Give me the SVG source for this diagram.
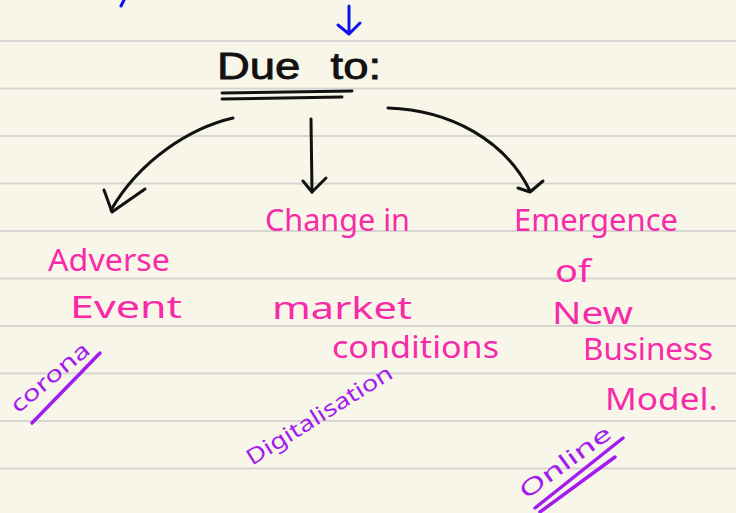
<svg xmlns="http://www.w3.org/2000/svg" width="736" height="513" viewBox="0 0 736 513">
  <defs>
    <style>
      .paper { fill: #f8f6e8; }
      .rule { stroke: #d6d6d2; stroke-width: 2; }
      .ink { fill: none; stroke: #111111; stroke-width: 3; stroke-linecap: round; stroke-linejoin: round; }
      .blue { fill: none; stroke: #1010f0; stroke-width: 3; stroke-linecap: round; stroke-linejoin: round; }
      .violet { fill: none; stroke: #a21cf0; stroke-width: 3.5; stroke-linecap: round; }
      .head { font-family: "Liberation Sans", Arial, sans-serif; font-size: 36px; fill: #111111; stroke: #111111; stroke-width: 0.8; }
      .pink { font-family: "Noto Sans", "Liberation Sans", sans-serif; font-size: 31px; fill: #f72aa9; }
      .note { font-family: "Noto Sans", "Liberation Sans", sans-serif; font-size: 22px; fill: #a21cf0; }
    </style>
  </defs>

  <!-- notebook paper -->
  <rect class="paper" x="0" y="0" width="736" height="513"/>
  <g id="rules">
    <line class="rule" x1="0" y1="41" x2="736" y2="41"/>
    <line class="rule" x1="0" y1="88.5" x2="736" y2="88.5"/>
    <line class="rule" x1="0" y1="136" x2="736" y2="136"/>
    <line class="rule" x1="0" y1="183.5" x2="736" y2="183.5"/>
    <line class="rule" x1="0" y1="231" x2="736" y2="231"/>
    <line class="rule" x1="0" y1="278.5" x2="736" y2="278.5"/>
    <line class="rule" x1="0" y1="326" x2="736" y2="326"/>
    <line class="rule" x1="0" y1="373.5" x2="736" y2="373.5"/>
    <line class="rule" x1="0" y1="421" x2="736" y2="421"/>
    <line class="rule" x1="0" y1="468.5" x2="736" y2="468.5"/>
  </g>

  <!-- blue strokes at the top edge -->
  <g id="top-marks">
    <path class="blue" d="M124,0 L121,6"/>
    <path class="blue" d="M349,6 L349,33 M338,25 L349,34 L360,23"/>
  </g>

  <!-- heading -->
  <g id="heading">
    <text class="head" x="217" y="79" textLength="164" lengthAdjust="spacingAndGlyphs" word-spacing="14">Due to:</text>
    <path class="ink" d="M222,93 L352,91 M222,99 L342,97"/>
  </g>

  <!-- connectors -->
  <g id="connectors">
    <path class="ink" d="M233,118 C190,128 140,160 111,210"/>
    <polyline class="ink" points="104,190 112,212 145,189"/>
    <path class="ink" d="M311,119 L312,192"/>
    <polyline class="ink" points="303,181 312,192 326,178"/>
    <path class="ink" d="M388,108 C450,110 505,140 530,191"/>
    <polyline class="ink" points="518,188 530,192 543,181"/>
  </g>

  <!-- causes -->
  <g id="adverse-event">
    <text class="pink" x="48" y="271" textLength="122" lengthAdjust="spacingAndGlyphs">Adverse</text>
    <text class="pink" x="70" y="318" textLength="112" lengthAdjust="spacingAndGlyphs">Event</text>
  </g>

  <g id="market-change">
    <text class="pink" x="265" y="231" textLength="145" lengthAdjust="spacingAndGlyphs">Change in</text>
    <text class="pink" x="272" y="319" textLength="140" lengthAdjust="spacingAndGlyphs">market</text>
    <text class="pink" x="332" y="358" textLength="167" lengthAdjust="spacingAndGlyphs">conditions</text>
  </g>

  <g id="new-business-model">
    <text class="pink" x="514" y="231" textLength="164" lengthAdjust="spacingAndGlyphs">Emergence</text>
    <text class="pink" font-size="24" x="555" y="282" textLength="36" lengthAdjust="spacingAndGlyphs">of</text>
    <text class="pink" font-size="25" x="552" y="324" textLength="81" lengthAdjust="spacingAndGlyphs">New</text>
    <text class="pink" x="583" y="360" textLength="130" lengthAdjust="spacingAndGlyphs">Business</text>
    <text class="pink" x="605" y="410" textLength="113" lengthAdjust="spacingAndGlyphs">Model.</text>
  </g>

  <!-- examples -->
  <g id="example-corona">
    <text class="note" transform="translate(18,414) rotate(-40)" textLength="96" lengthAdjust="spacingAndGlyphs">corona</text>
    <path class="violet" d="M32,423 L100,353"/>
  </g>

  <g id="example-digitalisation">
    <text class="note" font-size="24" transform="translate(252,466) rotate(-32)" textLength="168" lengthAdjust="spacingAndGlyphs">Digitalisation</text>
  </g>

  <g id="example-online">
    <text class="note" font-size="24" transform="translate(526,500) rotate(-36)" textLength="108" lengthAdjust="spacingAndGlyphs">Online</text>
    <path class="violet" d="M535,508 L623,438 M540,512 L615,457"/>
  </g>
</svg>
